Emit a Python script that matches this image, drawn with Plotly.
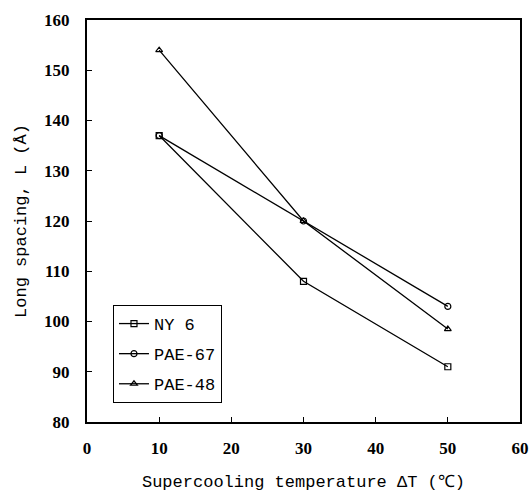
import plotly.graph_objects as go

x_vals = [10, 30, 50]
ny6 = [137, 108, 91]
pae67 = [137, 120, 103]
pae48 = [154, 120, 98.5]
series_names = ["NY 6", "PAE-67", "PAE-48"]
symbols = ["square-open", "circle-open", "triangle-up-open"]

mono = "Liberation Mono"
serif = "Liberation Serif"

fig = go.Figure()
for i, (name, ys, sym) in enumerate(zip(series_names, [ny6, pae67, pae48], symbols)):
    fig.add_trace(go.Scatter(
        x=x_vals, y=ys, name=name, mode="lines+markers",
        line=dict(color="black", width=1.3),
        marker=dict(symbol=sym, size=6, color="black", line=dict(color="black", width=1.2)),
        legendgroup=f"g{i}",
    ))

fig.update_layout(
    width=532, height=492,
    margin=dict(l=87, r=12, t=20, b=70),
    paper_bgcolor="white", plot_bgcolor="white",
    showlegend=True,
    legend=dict(
        x=0.06, y=0.291, xanchor="left", yanchor="top",
        bgcolor="white", bordercolor="black", borderwidth=1,
        font=dict(family=mono, size=17, color="black"),
        tracegroupgap=5,
        itemwidth=30,
    ),
    xaxis=dict(
        range=[0, 60], dtick=10, tick0=0,
        showgrid=False, zeroline=False, automargin=False,
        showline=True, linecolor="black", linewidth=2, mirror=True,
        ticks="inside", ticklen=5, tickcolor="black", tickwidth=1,
        ticklabelstandoff=10,
        tickfont=dict(family=serif, size=17, color="black", weight="bold"),
        title=dict(text="Supercooling temperature ΔT (℃)",
                   font=dict(family=mono, size=17, color="black"), standoff=18),
    ),
    yaxis=dict(
        range=[80, 160], dtick=10, tick0=80,
        showgrid=False, zeroline=False, automargin=False,
        showline=True, linecolor="black", linewidth=2, mirror=True,
        ticks="inside", ticklen=5, tickcolor="black", tickwidth=1,
        ticklabelstandoff=12,
        tickfont=dict(family=serif, size=17, color="black", weight="bold"),
        title=dict(text="Long spacing, L (Å)",
                   font=dict(family=mono, size=17, color="black"), standoff=13),
    ),
)

fig.write_html("out.html")
